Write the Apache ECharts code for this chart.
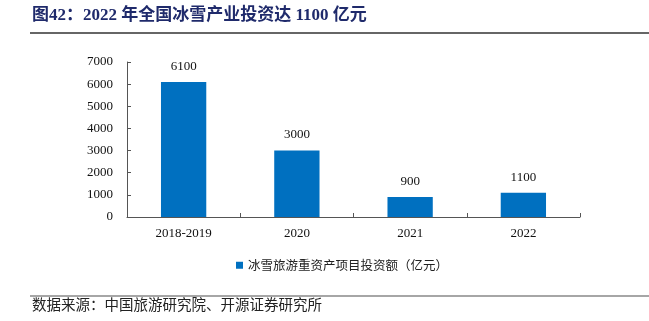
<!DOCTYPE html>
<html>
<head>
<meta charset="utf-8">
<script src="https://cdn.jsdelivr.net/npm/echarts@6/dist/echarts.min.js"></script>
<style>
html,body{margin:0;padding:0;background:#fff;}
#c{width:649px;height:321px;}
</style>
</head>
<body>
<div id="c"></div>
<script>
const categories = ['2018-2019', '2020', '2021', '2022'];
const values = [6100, 3000, 900, 1100];
const seriesName = '冰雪旅游重资产项目投资额（亿元）';
const titleText = '图42：2022 年全国冰雪产业投资达 1100 亿元';
const sourceText = '数据来源：中国旅游研究院、开源证券研究所';

const serif = '"Liberation Serif", "Noto Sans CJK SC", serif';
const chart = echarts.init(document.getElementById('c'), null, {renderer: 'canvas'});
chart.setOption({
  animation: false,
  backgroundColor: '#fff',
  grid: {left: 127, right: 69, top: 62, bottom: 104, containLabel: false},
  legend: {
    data: [seriesName],
    left: 231, top: 254,
    itemWidth: 7, itemHeight: 7, itemGap: 4,
    icon: 'rect',
    textStyle: {fontFamily: '"Noto Sans CJK SC", sans-serif', fontSize: 12.5, color: '#222'}
  },
  xAxis: {
    type: 'category',
    data: categories,
    axisLine: {lineStyle: {color: '#555', width: 1}},
    axisTick: {show: true, inside: true, length: 4, lineStyle: {color: '#555'}},
    axisLabel: {fontFamily: serif, fontSize: 13, color: '#111', margin: 10}
  },
  yAxis: {
    type: 'value',
    min: 0, max: 7000, interval: 1000,
    axisLine: {show: true, lineStyle: {color: '#555', width: 1}},
    axisTick: {show: true, inside: true, length: 4, lineStyle: {color: '#555'}},
    splitLine: {show: false},
    axisLabel: {fontFamily: serif, fontSize: 13, color: '#111', margin: 14, formatter: v => String(v)}
  },
  series: [{
    name: seriesName,
    type: 'bar',
    data: values,
    barWidth: '40%',
    itemStyle: {color: '#0070C0'},
    label: {show: true, position: 'top', distance: 9, fontFamily: serif, fontSize: 13, color: '#111'}
  }],
  graphic: [
    {type: 'text', left: 32, top: 7, style: {text: titleText, font: 'bold 17px "Liberation Serif", "Noto Sans CJK SC", serif', fill: '#1F2A6B'}},
    {type: 'line', shape: {x1: 30, y1: 33, x2: 649, y2: 33}, style: {stroke: '#333', lineWidth: 1.5}},
    {type: 'line', shape: {x1: 30, y1: 296, x2: 649, y2: 296}, style: {stroke: '#888', lineWidth: 1.5}},
    {type: 'text', left: 32, top: 297, style: {text: sourceText, font: '14.5px "Noto Sans CJK SC", sans-serif', fill: '#222'}}
  ]
});
</script>
</body>
</html>
